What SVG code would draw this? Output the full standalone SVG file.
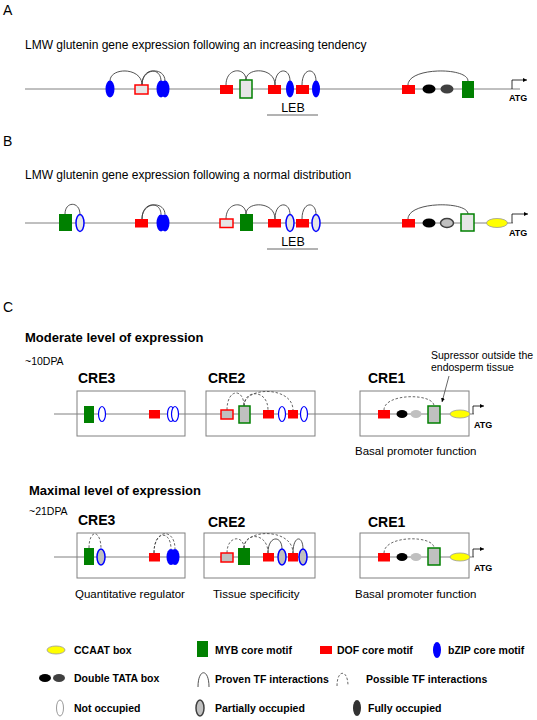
<svg xmlns="http://www.w3.org/2000/svg" width="537" height="720" viewBox="0 0 537 720">
<defs>
<style>
.t{font-family:"Liberation Sans",Arial,sans-serif;fill:#000}
.b{font-weight:bold}
.ln{stroke:#808080;stroke-width:1;fill:none}
.arc{stroke:#404040;stroke-width:0.9;fill:none}
.dash{stroke:#404040;stroke-width:0.8;fill:none;stroke-dasharray:2.5,1.8}
.box{fill:#fff;stroke:#808080;stroke-width:1}
.red{fill:#FF0000}
.redo{fill:#E6E6E6;stroke:#FF0000;stroke-width:1.5}
.redg{fill:#C0C0C0;stroke:#FF0000;stroke-width:1.5}
.grn{fill:#008000}
.grno{fill:#E6E6E6;stroke:#008000;stroke-width:1.5}
.grng{fill:#C0C0C0;stroke:#008000;stroke-width:1.5}
.blu{fill:#0000FF}
.bluo{fill:#E6E6E6;stroke:#0000FF;stroke-width:1.5}
.blug{fill:#C0C0C0;stroke:#0000FF;stroke-width:1.5}
.bluw{fill:#fff;stroke:#0000FF;stroke-width:1.2}
.blk{fill:#000}
.dgr{fill:#404040}
.gry{fill:#C0C0C0}
.gryo{fill:#C0C0C0;stroke:#404040;stroke-width:1.5}
.yel{fill:#FFFF00;stroke:#999;stroke-width:0.8}
.atg{stroke:#000;stroke-width:0.8;fill:none}
</style>
<marker id="ah" viewBox="0 0 6 6" refX="6" refY="3" markerWidth="5" markerHeight="5" orient="auto"><path d="M0,0 L6,3 L0,6 z" fill="#000"/></marker>
</defs>
<rect width="537" height="720" fill="#fff"/>

<!-- Panel A -->
<g id="panelA">
<text class="t" x="3" y="15" font-size="14">A</text>
<text class="t" x="25" y="49" font-size="12">LMW glutenin gene expression following an increasing tendency</text>
<line class="ln" x1="25" y1="89" x2="520" y2="89"/>
<g id="connectorsA">
<path class="arc" d="M110,81 C110,67 142,67 142,85"/>
<path class="arc" d="M142,85 C142,67 161,67 161,81"/>
<path class="arc" d="M142,85 C142,67 165,67 165,81"/>
<path class="arc" d="M226,85 C226,67 246,67 246,80"/>
<path class="arc" d="M246,80 C246,67 275,67 275,85"/>
<path class="arc" d="M275,85 C275,67 290,67 290,81"/>
<path class="arc" d="M302,85 C302,67 316,67 316,81"/>
<path class="arc" d="M408,85 C408,67 468,67 468,81"/>
</g>
<g id="A_bzip1"><ellipse class="blu" cx="110" cy="89" rx="4.5" ry="8.5"/></g>
<g id="A_dof1"><rect class="redo" x="135" y="85" width="13" height="9"/></g>
<g id="A_bzip2"><ellipse class="blu" cx="161" cy="89" rx="4.5" ry="8.5"/><ellipse class="blu" cx="165" cy="89" rx="4.5" ry="8.5"/></g>
<g id="A_dof2"><rect class="red" x="220" y="85" width="13" height="9"/></g>
<g id="A_myb1"><rect class="grno" x="240" y="80" width="12" height="18"/></g>
<g id="A_dof3"><rect class="red" x="268" y="85" width="13" height="9"/></g>
<g id="A_bzip3"><ellipse class="blu" cx="290" cy="89" rx="4" ry="8.5"/></g>
<g id="A_dof4"><rect class="red" x="296" y="85" width="13" height="9"/></g>
<g id="A_bzip4"><ellipse class="blu" cx="316" cy="89" rx="4" ry="8.5"/></g>
<g id="A_leb"><text class="t" x="293" y="112" font-size="12.5" text-anchor="middle">LEB</text><line x1="267" y1="115" x2="318" y2="115" stroke="#404040" stroke-width="0.8"/></g>
<g id="A_dof5"><rect class="red" x="402" y="85" width="13" height="9"/></g>
<g id="A_tata"><ellipse class="blk" cx="429" cy="89" rx="6.5" ry="4.5"/><ellipse class="dgr" cx="447" cy="89" rx="6.5" ry="4.5"/></g>
<g id="A_myb2"><rect class="grn" x="462" y="81" width="12" height="17"/></g>
<g id="A_atg"><path class="atg" d="M512,89 V80 H527" marker-end="url(#ah)"/><text class="t b" x="509" y="101" font-size="9">ATG</text></g>
</g>

<!-- Panel B -->
<g id="panelB">
<text class="t" x="3" y="146" font-size="14">B</text>
<text class="t" x="25" y="179" font-size="12">LMW glutenin gene expression following a normal distribution</text>
<line class="ln" x1="25" y1="223" x2="513" y2="223"/>
<g id="connectorsB">
<path class="arc" d="M65,214 C65,201 80,201 80,214.5"/>
<path class="arc" d="M142,219 C142,201 161,201 161,214.5"/>
<path class="arc" d="M142,219 C142,201 165,201 165,214.5"/>
<path class="arc" d="M226,219 C226,201 246,201 246,214"/>
<path class="arc" d="M246,214 C246,201 275,201 275,219"/>
<path class="arc" d="M275,219 C275,201 290,201 290,214.5"/>
<path class="arc" d="M302,219 C302,201 316,201 316,214.5"/>
<path class="arc" d="M408,219 C408,201 468,201 468,214"/>
</g>
<g id="B_myb1"><rect class="grn" x="59" y="214" width="13" height="17"/></g>
<g id="B_bzip1"><ellipse class="bluo" cx="80" cy="223" rx="4" ry="8.5"/></g>
<g id="B_dof1"><rect class="red" x="135" y="219" width="13" height="8.5"/></g>
<g id="B_bzip2"><ellipse class="blu" cx="161" cy="223" rx="4.5" ry="8.5"/><ellipse class="blu" cx="165" cy="223" rx="4.5" ry="8.5"/></g>
<g id="B_dof2"><rect class="redo" x="220" y="219" width="13" height="8.5"/></g>
<g id="B_myb2"><rect class="grn" x="240" y="214" width="13" height="17"/></g>
<g id="B_dof3"><rect class="red" x="268" y="219" width="13" height="8.5"/></g>
<g id="B_bzip3"><ellipse class="bluo" cx="290" cy="223" rx="4" ry="8.5"/></g>
<g id="B_dof4"><rect class="red" x="296" y="219" width="13" height="8.5"/></g>
<g id="B_bzip4"><ellipse class="bluo" cx="316" cy="223" rx="4" ry="8.5"/></g>
<g id="B_leb"><text class="t" x="293" y="246" font-size="12.5" text-anchor="middle">LEB</text><line x1="267" y1="249" x2="318" y2="249" stroke="#404040" stroke-width="0.8"/></g>
<g id="B_dof5"><rect class="red" x="402" y="219" width="13" height="8.5"/></g>
<g id="B_tata"><ellipse class="blk" cx="429" cy="223" rx="6.5" ry="4.5"/><ellipse class="gryo" cx="447" cy="223" rx="6.5" ry="4.5"/></g>
<g id="B_myb3"><rect class="grno" x="461" y="214" width="13" height="17"/></g>
<g id="B_ccaat"><ellipse class="yel" cx="497" cy="223" rx="10.5" ry="4.5"/></g>
<g id="B_atg"><path class="atg" d="M512,223 V214 H528" marker-end="url(#ah)"/><text class="t b" x="509" y="236" font-size="9">ATG</text></g>
</g>

<!-- Panel C -->
<g id="panelC">
<text class="t" x="3" y="312" font-size="14">C</text>
<text class="t b" x="25" y="342" font-size="13">Moderate level of expression</text>
<text class="t" x="25" y="365" font-size="10.5">~10DPA</text>

<!-- moderate -->
<g id="C1_CRE3"><text class="t b" x="78" y="383" font-size="14">CRE3</text><rect class="box" x="77" y="391" width="108" height="45"/></g>
<g id="C1_CRE2"><text class="t b" x="208" y="383" font-size="14">CRE2</text><rect class="box" x="206" y="391" width="109" height="45"/></g>
<g id="C1_CRE1"><text class="t b" x="368" y="383" font-size="14">CRE1</text><rect class="box" x="360" y="391" width="109" height="45"/></g>
<line class="ln" x1="54" y1="414" x2="474" y2="414"/>
<g id="connectorsC1">
<path class="dash" d="M227,410 C227,388 244,388 244,406"/>
<path class="dash" d="M244,406 C244,389 268,389 268,410"/>
<path class="dash" d="M244,406 C244,386 293,386 293,410"/>
<path class="dash" d="M384,410 C384,393 434,393 434,406"/>
</g>
<g id="C1_myb1"><rect class="grn" x="84" y="406" width="10" height="17"/></g>
<g id="C1_bzip1"><ellipse class="bluw" cx="102" cy="414" rx="3.5" ry="7.5"/></g>
<g id="C1_dof1"><rect class="red" x="149" y="410" width="11" height="8.5"/></g>
<g id="C1_bzip2"><ellipse class="bluw" cx="171" cy="414" rx="3.5" ry="7.5"/><ellipse class="bluw" cx="175" cy="414" rx="3.5" ry="7.5"/></g>
<g id="C1_dof2"><rect class="redg" x="221" y="410" width="12" height="9"/></g>
<g id="C1_myb2"><rect class="grng" x="239" y="406" width="11" height="17"/></g>
<g id="C1_dof3"><rect class="red" x="263" y="410" width="11" height="8.5"/></g>
<g id="C1_bzip3"><ellipse class="bluw" cx="282" cy="414" rx="3.5" ry="7.5"/></g>
<g id="C1_dof4"><rect class="red" x="288" y="410" width="10" height="8.5"/></g>
<g id="C1_bzip4"><ellipse class="bluw" cx="304" cy="414" rx="3.5" ry="7.5"/></g>
<g id="C1_dof5"><rect class="red" x="378" y="410" width="12" height="8.5"/></g>
<g id="C1_tata"><ellipse class="blk" cx="402" cy="414" rx="5.5" ry="4"/><ellipse class="gry" cx="416" cy="414" rx="5.5" ry="4"/></g>
<g id="C1_myb3"><rect class="grng" x="428" y="406" width="12" height="17"/></g>
<g id="C1_ccaat"><ellipse class="yel" cx="460" cy="414" rx="10" ry="4"/></g>
<g id="C1_atg"><path class="atg" d="M473,414 V406 H484" marker-end="url(#ah)"/><text class="t b" x="474" y="428" font-size="9">ATG</text></g>
<g id="C1_note">
<text class="t" x="431" y="359" font-size="10.5">Supressor outside the</text>
<text class="t" x="431" y="371" font-size="10.5">endosperm tissue</text>
<line x1="449" y1="376" x2="442" y2="402" stroke="#404040" stroke-width="0.8" marker-end="url(#ah)"/>
</g>
<text class="t" x="355" y="455" font-size="11.5">Basal promoter function</text>

<!-- maximal -->
<text class="t b" x="29" y="495" font-size="13">Maximal level of expression</text>
<text class="t" x="29" y="515" font-size="10.5">~21DPA</text>
<g id="C2_CRE3"><text class="t b" x="78" y="525" font-size="14">CRE3</text><rect class="box" x="77" y="533" width="108" height="45"/></g>
<g id="C2_CRE2"><text class="t b" x="208" y="527" font-size="14">CRE2</text><rect class="box" x="204" y="533" width="111" height="45"/></g>
<g id="C2_CRE1"><text class="t b" x="368" y="527" font-size="14">CRE1</text><rect class="box" x="360" y="533" width="109" height="45"/></g>
<line class="ln" x1="54" y1="557" x2="474" y2="557"/>
<g id="connectorsC2">
<path class="dash" d="M89,548 C89,529 101,529 101,549"/>
<path class="dash" d="M154,553 C154,530 171,530 171,549"/>
<path class="dash" d="M154,553 C154,528 175,528 175,549"/>
<path class="dash" d="M227,553 C227,535 244,535 244,548"/>
<path class="dash" d="M244,548 C244,532 268,532 268,553"/>
<path class="dash" d="M244,548 C244,528 293,528 293,553"/>
<path class="arc" d="M268,553 C268,535 282,535 282,549"/>
<path class="arc" d="M293,553 C293,535 303,535 303,549"/>
<path class="dash" d="M384,553 C384,535 434,535 434,548"/>
</g>
<g id="C2_myb1"><rect class="grn" x="84" y="548" width="10" height="17"/></g>
<g id="C2_bzip1"><ellipse class="blug" cx="101" cy="557" rx="4" ry="8"/></g>
<g id="C2_dof1"><rect class="red" x="149" y="553" width="11" height="8.5"/></g>
<g id="C2_bzip2"><ellipse class="blu" cx="171" cy="557" rx="4.5" ry="8"/><ellipse class="blu" cx="175" cy="557" rx="4.5" ry="8"/></g>
<g id="C2_dof2"><rect class="redg" x="221" y="553" width="12" height="9"/></g>
<g id="C2_myb2"><rect class="grn" x="238" y="548" width="12" height="17"/></g>
<g id="C2_dof3"><rect class="red" x="263" y="553" width="11" height="8.5"/></g>
<g id="C2_bzip3"><ellipse class="blug" cx="282" cy="557" rx="4" ry="8"/></g>
<g id="C2_dof4"><rect class="red" x="288" y="553" width="10" height="8.5"/></g>
<g id="C2_bzip4"><ellipse class="blug" cx="303" cy="557" rx="4" ry="8"/></g>
<g id="C2_dof5"><rect class="red" x="378" y="553" width="12" height="8.5"/></g>
<g id="C2_tata"><ellipse class="blk" cx="402" cy="557" rx="5.5" ry="4"/><ellipse class="gry" cx="416" cy="557" rx="5.5" ry="4"/></g>
<g id="C2_myb3"><rect class="grng" x="428" y="548" width="12" height="17"/></g>
<g id="C2_ccaat"><ellipse class="yel" cx="460" cy="557" rx="10" ry="4"/></g>
<g id="C2_atg"><path class="atg" d="M473,557 V549 H484" marker-end="url(#ah)"/><text class="t b" x="474" y="571" font-size="9">ATG</text></g>
<text class="t" x="75" y="598" font-size="11.5">Quantitative regulator</text>
<text class="t" x="213" y="598" font-size="11.5">Tissue specificity</text>
<text class="t" x="355" y="598" font-size="11.5">Basal promoter function</text>
</g>

<!-- Legend -->
<g id="legend">
<g id="lg_ccaat"><ellipse class="yel" cx="56" cy="650" rx="9" ry="4"/><text class="t b" x="74" y="654" font-size="10.5">CCAAT box</text></g>
<g id="lg_myb"><rect class="grn" x="197" y="641" width="11" height="16"/><text class="t b" x="215" y="654" font-size="10.5">MYB core motif</text></g>
<g id="lg_dof"><rect class="red" x="320" y="646" width="12" height="8"/><text class="t b" x="337" y="654" font-size="10.5">DOF core motif</text></g>
<g id="lg_bzip"><ellipse class="blu" cx="437" cy="650" rx="4" ry="8"/><text class="t b" x="448" y="654" font-size="10.5">bZIP core motif</text></g>
<g id="lg_tata"><ellipse class="blk" cx="45" cy="678" rx="6" ry="4"/><ellipse class="dgr" cx="59" cy="678" rx="6" ry="4"/><text class="t b" x="74" y="682" font-size="10.5">Double TATA box</text></g>
<g id="lg_proven"><path class="arc" d="M198,687 C198,668 209,668 209,687"/><text class="t b" x="215" y="683" font-size="10.5">Proven TF interactions</text></g>
<g id="lg_possible"><path class="dash" d="M337,686 C337,669 348,669 348,686"/><text class="t b" x="366" y="683" font-size="10.5">Possible TF interactions</text></g>
<g id="lg_not"><ellipse cx="60" cy="708" rx="3.5" ry="8" fill="#fff" stroke="#808080" stroke-width="0.8"/><text class="t b" x="74" y="712" font-size="10.5">Not occupied</text></g>
<g id="lg_partial"><ellipse class="gryo" cx="200" cy="708" rx="4" ry="8"/><text class="t b" x="215" y="712" font-size="10.5">Partially occupied</text></g>
<g id="lg_fully"><ellipse fill="#333" cx="357" cy="708" rx="4" ry="8"/><text class="t b" x="368" y="712" font-size="10.5">Fully occupied</text></g>
</g>
</svg>
